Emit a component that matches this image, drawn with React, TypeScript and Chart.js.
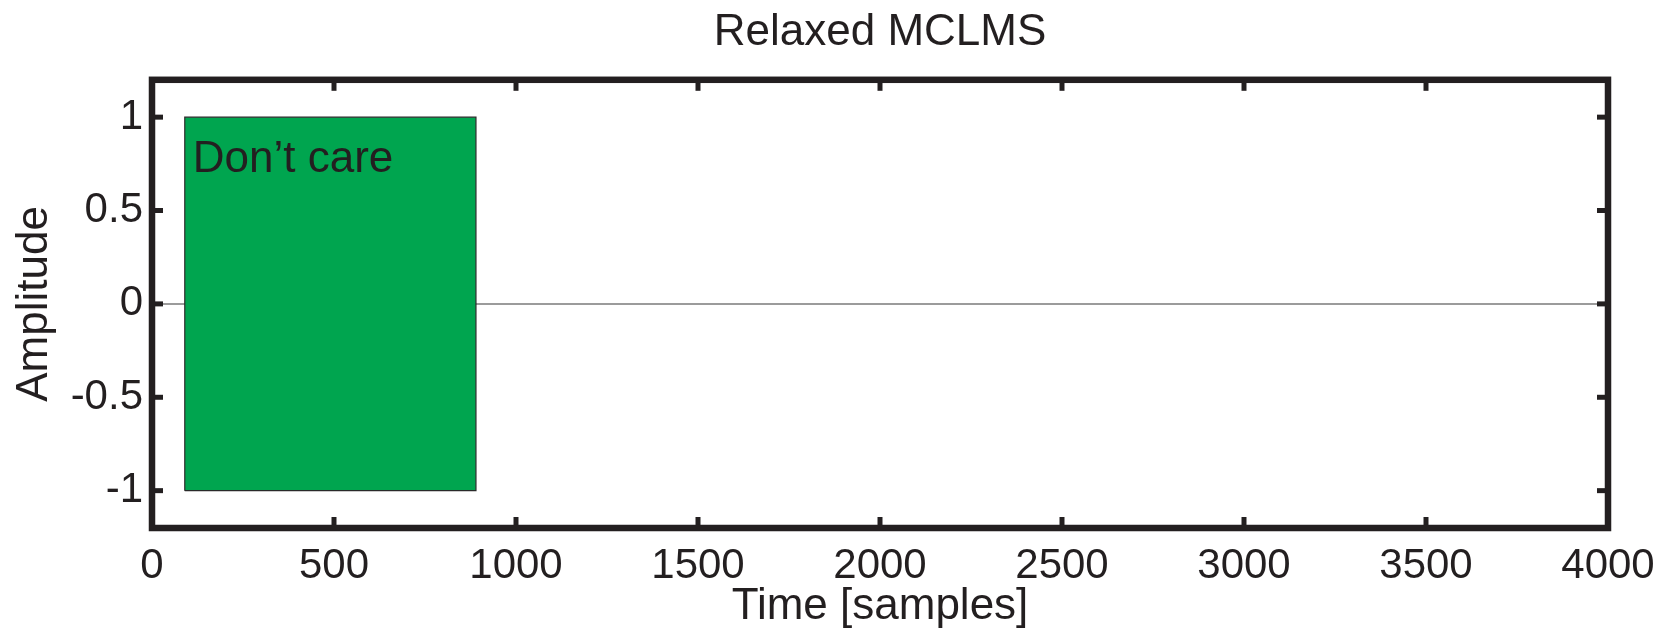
import React, { useEffect, useRef } from "react";
import { Chart, registerables } from "chart.js";

Chart.register(...registerables);

// ---- data ----
const titleText = "Relaxed MCLMS";
const xAxisLabel = "Time [samples]";
const yAxisLabel = "Amplitude";
const regionLabel = "Don\u2019t care";

const signalTime = [0, 4000];
const signalValue = [0, 0];

const dontCareStart = 90;
const dontCareEnd = 890;
const dontCareTop = 1;
const dontCareBottom = -1;

const xTicks = [0, 500, 1000, 1500, 2000, 2500, 3000, 3500, 4000];
const xTickLabels = ["0", "500", "1000", "1500", "2000", "2500", "3000", "3500", "4000"];
const yTicks = [-1, -0.5, 0, 0.5, 1];
const yTickLabels = ["-1", "-0.5", "0", "0.5", "1"];

const xMin = 0;
const xMax = 4000;
const yMin = -1.2;
const yMax = 1.2;

const INK = "#231F20";
const GREEN = "#00A54F";
const FONT = '"Liberation Sans", Arial, Helvetica, sans-serif';

const framePlugin = {
  id: "frameAndTicks",
  afterDatasetsDraw(chart: any) {
    const { ctx, chartArea: a, scales } = chart;
    const sx = scales.x;
    const sy = scales.y;
    ctx.save();
    ctx.strokeStyle = INK;
    ctx.lineCap = "butt";
    ctx.lineWidth = 5;
    const seg = (x1: number, y1: number, x2: number, y2: number) => {
      ctx.beginPath();
      ctx.moveTo(x1, y1);
      ctx.lineTo(x2, y2);
      ctx.stroke();
    };
    for (const v of xTicks) {
      const px = sx.getPixelForValue(v);
      seg(px, a.bottom, px, a.bottom - 11);
      seg(px, a.top, px, a.top + 11);
    }
    for (const v of yTicks) {
      const py = sy.getPixelForValue(v);
      seg(a.left, py, a.left + 11, py);
      seg(a.right, py, a.right - 11, py);
    }
    ctx.lineWidth = 6.5;
    ctx.strokeRect(a.left, a.top, a.right - a.left, a.bottom - a.top);

    // region annotation text
    ctx.font = `44px ${FONT}`;
    ctx.fillStyle = INK;
    ctx.textBaseline = "alphabetic";
    ctx.textAlign = "left";
    ctx.fillText(
      regionLabel,
      sx.getPixelForValue(dontCareStart) + 8,
      sy.getPixelForValue(dontCareTop) + 55
    );
    ctx.restore();
  },
};

export default function App() {
  const canvasRef = useRef<HTMLCanvasElement | null>(null);

  useEffect(() => {
    if (!canvasRef.current) return;
    Chart.defaults.font.family = FONT;
    Chart.defaults.color = INK;

    const outline = [
      { x: dontCareStart, y: dontCareBottom },
      { x: dontCareStart, y: dontCareTop },
      { x: dontCareEnd, y: dontCareTop },
      { x: dontCareEnd, y: dontCareBottom },
      { x: dontCareStart, y: dontCareBottom },
    ];
    const topEdge = [
      { x: dontCareStart, y: dontCareTop },
      { x: dontCareEnd, y: dontCareTop },
    ];
    const signal = signalTime.map((t, i) => ({ x: t, y: signalValue[i] }));

    const chart = new Chart(canvasRef.current, {
      type: "scatter",
      data: {
        datasets: [
          {
            label: "Don't care outline",
            data: outline,
            showLine: true,
            borderColor: "#2a2a2a",
            borderWidth: 1.2,
            pointRadius: 0,
            fill: false,
          },
          {
            label: "Don't care",
            data: topEdge,
            showLine: true,
            borderWidth: 0,
            borderColor: GREEN,
            backgroundColor: GREEN,
            pointRadius: 0,
            fill: { value: dontCareBottom },
          },
          {
            label: "Signal",
            data: signal,
            showLine: true,
            borderColor: "#7a7a7a",
            borderWidth: 1.5,
            pointRadius: 0,
            fill: false,
          },
        ],
      },
      options: {
        animation: false,
        responsive: false,
        maintainAspectRatio: false,
        layout: { padding: { top: 0, right: 60, bottom: 0, left: 0 } },
        plugins: {
          legend: { display: false },
          tooltip: { enabled: false },
          title: {
            display: true,
            text: titleText,
            fullSize: false,
            color: INK,
            font: { size: 44, weight: "normal", family: FONT },
            padding: { top: 6, bottom: 21 },
          },
        },
        scales: {
          x: {
            type: "linear",
            min: xMin,
            max: xMax,
            afterBuildTicks: (s: any) => {
              s.ticks = xTicks.map((v) => ({ value: v }));
            },
            afterFit: (s: any) => {
              s.height = 102;
            },
            grid: { display: false, drawTicks: false },
            border: { display: false },
            ticks: {
              autoSkip: false,
              maxRotation: 0,
              color: INK,
              font: { size: 42, family: FONT },
              padding: 13,
              callback: (v: any) => {
                const i = xTicks.indexOf(Number(v));
                return i >= 0 ? xTickLabels[i] : "";
              },
            },
            title: {
              display: true,
              text: xAxisLabel,
              color: INK,
              font: { size: 44, family: FONT },
              padding: { top: 0, bottom: -3 },
            },
          },
          y: {
            type: "linear",
            min: yMin,
            max: yMax,
            afterBuildTicks: (s: any) => {
              s.ticks = yTicks.map((v) => ({ value: v }));
            },
            afterFit: (s: any) => {
              s.width = 152;
            },
            grid: { display: false, drawTicks: false },
            border: { display: false },
            ticks: {
              autoSkip: false,
              color: INK,
              font: { size: 42, family: FONT },
              padding: 9,
              callback: (v: any) => {
                const i = yTicks.indexOf(Number(v));
                return i >= 0 ? yTickLabels[i] : "";
              },
            },
            title: {
              display: true,
              text: yAxisLabel,
              color: INK,
              font: { size: 44, family: FONT },
              padding: { top: 8, bottom: 0 },
            },
          },
        },
      },
      plugins: [framePlugin],
    } as any);

    return () => chart.destroy();
  }, []);

  return (
    <div style={{ position: "absolute", left: 0, top: 0, width: 1668, height: 630, background: "#fff" }}>
      <canvas ref={canvasRef} width={1668} height={630} style={{ display: "block", width: 1668, height: 630 }} />
    </div>
  );
}
